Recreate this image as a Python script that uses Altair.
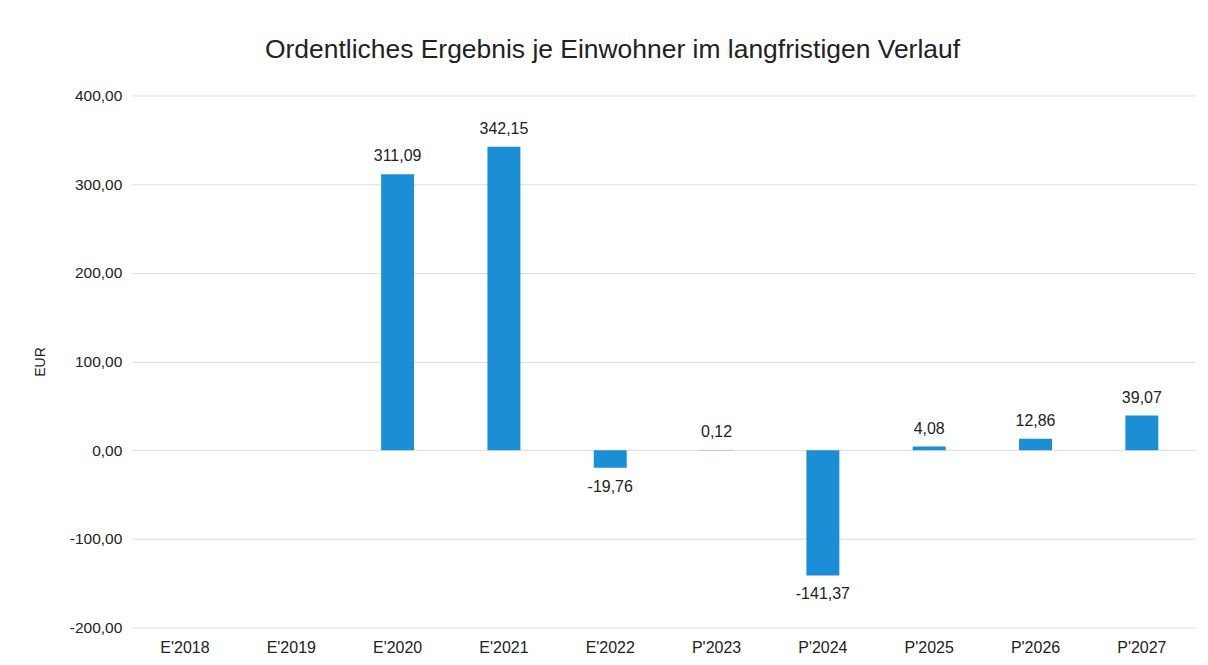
import altair as alt
import pandas as pd

categories = ["E'2018", "E'2019", "E'2020", "E'2021", "E'2022",
              "P'2023", "P'2024", "P'2025", "P'2026", "P'2027"]
values = [None, None, 311.09, 342.15, -19.76, 0.12, -141.37, 4.08, 12.86, 39.07]
y_ticks = [-200, -100, 0, 100, 200, 300, 400]

def de(v):
    if v is None:
        return None
    return f"{v:.2f}".replace(".", ",")

df = pd.DataFrame({
    "cat": categories,
    "v": values,
    "label": [de(v) for v in values],
})

FONT = "Liberation Sans"
BLUE = "#1b8ed6"

x = alt.X("cat:N", sort=categories, title=None,
          scale=alt.Scale(paddingInner=0.69, paddingOuter=0.345),
          axis=alt.Axis(labelAngle=0, ticks=False, domain=False, grid=False, labelPadding=12,
                        labelFontSize=16, labelColor="#222222", labelFont=FONT))
y = alt.Y("v:Q", title="EUR",
          scale=alt.Scale(domain=[-200, 400], nice=False, zero=True),
          axis=alt.Axis(values=y_ticks, ticks=False, domain=False, labelPadding=10,
                        labelFontSize=15.5, labelColor="#222222", labelFont=FONT,
                        titleFontSize=14, titleFont=FONT, titleFontWeight="normal",
                        titleColor="#222222", titlePadding=22,
                        gridColor="#dddddd",
                        labelExpr="replace(replace(format(datum.value, '.2f'), '\u2212', '-'), '.', ',')"))

base = alt.Chart(df)

bars = base.mark_bar(color=BLUE).encode(x=x, y=y)

pos = base.transform_filter("datum.v != null && datum.v >= 0").mark_text(
    baseline="bottom", dy=-10, fontSize=16, font=FONT, color="#222222"
).encode(x=x, y=y, text="label:N")

neg = base.transform_filter("datum.v != null && datum.v < 0").mark_text(
    baseline="top", dy=11, fontSize=16, font=FONT, color="#222222"
).encode(x=x, y=y, text="label:N")

chart = alt.layer(bars, pos, neg).properties(
    width=1065, height=533,
    title=alt.TitleParams("Ordentliches Ergebnis je Einwohner im langfristigen Verlauf",
                          fontSize=26.5, font=FONT, fontWeight="normal", color="#222222",
                          offset=25, anchor="middle", dx=-51),
    padding={"left": 25, "top": 28, "right": 5, "bottom": 5},
).configure(background="white").configure_view(stroke=None)

chart.save("out.html", embed_options={"renderer": "svg", "actions": False})
